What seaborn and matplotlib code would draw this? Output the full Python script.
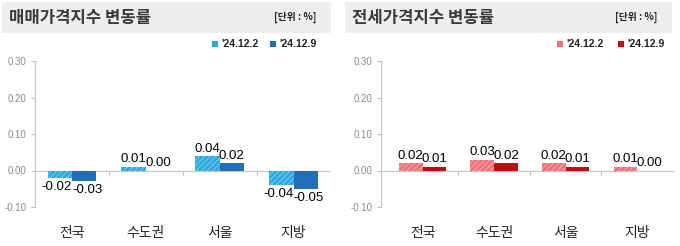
import matplotlib
matplotlib.use("Agg")
import matplotlib.pyplot as plt
import seaborn as sns
import pandas as pd
from matplotlib.patches import Rectangle

# ---- data ----
regions = ["전국", "수도권", "서울", "지방"]
dates = ["'24.12.2", "'24.12.9"]
sale_1202 = [-0.02, 0.01, 0.04, -0.04]
sale_1209 = [-0.03, 0.00, 0.02, -0.05]
jeonse_1202 = [0.02, 0.03, 0.02, 0.01]
jeonse_1209 = [0.01, 0.02, 0.01, 0.00]
yticks = [-0.10, 0.00, 0.10, 0.20, 0.30]
titles = ["매매가격지수 변동률", "전세가격지수 변동률"]
unit_text = "[단위 : %]"

sns.set_style("white")
KR = ["Noto Sans CJK KR", "DejaVu Sans"]
NUM = ["Liberation Sans", "DejaVu Sans"]
plt.rcParams["font.family"] = KR

W, H = 680, 246
fig = plt.figure(figsize=(W / 100, H / 100), dpi=100)

def fx(px):
    return px / W

def fy(py):
    return 1 - py / H

panels = [
    dict(v1=sale_1202, v2=sale_1209, c1="#2aa9e1", c2="#1c6ec0", h1=True, h2=True,
         ax_l=35, ax_r=329, xlim=(-0.50, 3.48), hdr=(2, 331), leg=(212, 270), title=titles[0]),
    dict(v1=jeonse_1202, v2=jeonse_1209, c1="#f2707a", c2="#c80a10", h1=True, h2=False,
         ax_l=381, ax_r=673, xlim=(-0.58, 3.50), hdr=(345, 672), leg=(557, 618), title=titles[1]),
]

y_top_px, y_bot_px = 61, 207

for p in panels:
    # header band
    x0, x1 = p["hdr"]
    fig.patches.append(Rectangle((fx(x0), fy(33)), fx(x1 - x0), 31 / H,
                                 transform=fig.transFigure, facecolor="#eeeeee",
                                 edgecolor="none", zorder=0))
    fig.text(fx(x0 + 7), fy(18), p["title"], family=KR, fontsize=12,
             fontweight="bold", color="#3a3a3a", va="center", ha="left")
    fig.text(fx(x1 - 15), fy(17), unit_text, family=KR, fontsize=7,
             fontweight="bold", color="#222222", va="center", ha="right")
    # legend
    for lx, col, lab in zip(p["leg"], [p["c1"], p["c2"]], dates):
        fig.patches.append(Rectangle((fx(lx), fy(47)), fx(6), 6 / H,
                                     transform=fig.transFigure, facecolor=col,
                                     edgecolor="none"))
        fig.text(fx(lx + 9), fy(44), lab, family=NUM,
                 fontsize=7.5, fontweight="bold", color="#222222", va="center", ha="left")

    ax = fig.add_axes([fx(p["ax_l"]), fy(y_bot_px), fx(p["ax_r"] - p["ax_l"]),
                       (y_bot_px - y_top_px) / H])
    df = pd.DataFrame({
        "region": regions * 2,
        "date": [dates[0]] * 4 + [dates[1]] * 4,
        "value": list(p["v1"]) + list(p["v2"]),
    })
    sns.barplot(data=df, x="region", y="value", hue="date", order=regions,
                hue_order=dates, palette=[p["c1"], p["c2"]], saturation=1,
                width=0.66, legend=False, ax=ax, errorbar=None, zorder=3)

    for ci, cont in enumerate(ax.containers):
        hatch = p["h1"] if ci == 0 else p["h2"]
        base = p["c1"] if ci == 0 else p["c2"]
        for bar in cont:
            bar.set_linewidth(0)
            if hatch:
                bar.set_hatch("//////")
                bar.set_edgecolor(sns.desaturate(base, 0.75) if ci == 1 else
                                  sns.light_palette(base, 4)[2])
        vals = p["v1"] if ci == 0 else p["v2"]
        for bar, v in zip(cont, vals):
            xc = bar.get_x() + bar.get_width() / 2
            if v < 0:
                dx = -2.3 if ci == 0 else 2.3
                ax.annotate(f"{v:.2f}", (xc, v), xytext=(dx, -2), textcoords="offset points",
                            ha="center", va="top", family=NUM, fontsize=9.5,
                            color="#000000")
            else:
                ax.annotate(f"{v:.2f}", (xc, v), xytext=(0, 1), textcoords="offset points",
                            ha="center", va="bottom", family=NUM, fontsize=9.5,
                            color="#000000")

    ax.set_xlim(*p["xlim"])
    ax.set_ylim(-0.10, 0.30)
    ax.tick_params(axis="y", length=3, width=0.8, color="#c0c0c0", pad=3, left=True)
    ax.tick_params(axis="x", which="major", length=0, pad=40)
    ax.set_yticks(yticks)
    ax.set_yticklabels([f"{t:.2f}" for t in yticks], family=NUM,
                       fontsize=7, color="#8a8a8a")

    # category labels far below, boundary ticks on zero line
    ax.set_xticks(range(len(regions)))
    ax.set_xticklabels(regions)
    ax.set_xticks([0.5, 1.5, 2.5], minor=True)
    ax.tick_params(axis="x", which="minor", length=3, width=0.8, color="#c0c0c0",
                   bottom=True, direction="out")
    for lbl in ax.get_xticklabels():
        lbl.set_family(KR)
        lbl.set_fontsize(9.5)
        lbl.set_fontweight("bold")
        lbl.set_color("#1a1a1a")
    ax.spines["bottom"].set_position(("data", 0))
    for s in ["top", "right"]:
        ax.spines[s].set_visible(False)
    for s in ["left", "bottom"]:
        ax.spines[s].set_color("#c8c8c8")
        ax.spines[s].set_linewidth(0.9)
    ax.set_xlabel("")
    ax.set_ylabel("")
    ax.patch.set_alpha(0)

fig.savefig("out.png", dpi=100)
